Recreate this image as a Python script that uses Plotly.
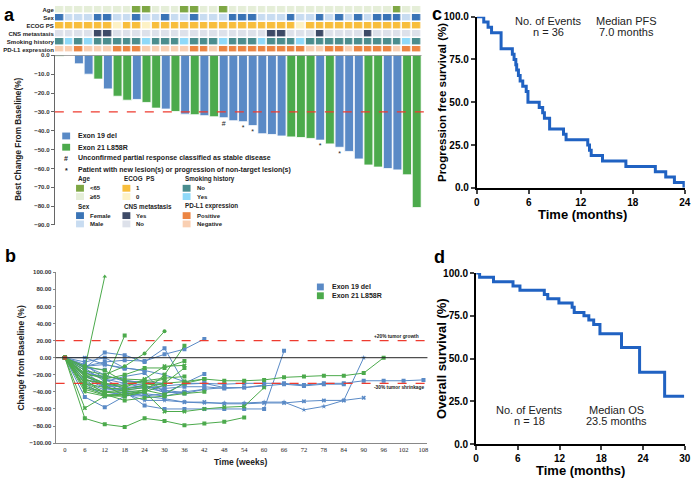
import plotly.graph_objects as go

W, H = 699, 483
def px(x): return x / W
def py(y): return 1 - y / H

FONT = "Liberation Sans, Arial, sans-serif"
BLUE = "#5a8ac6"
GREEN = "#4caa4c"
KM_BLUE = "#2062c2"
RED = "#ee3b2f"

# ---------------- Panel a data ----------------
patients = list(range(1, 39))
best_change = [-0.5, 0.0, -4.5, -10.0, -12.6, -17.8, -21.7, -23.8, -23.4, -25.0,
               -28.0, -28.5, -29.8, -31.2, -31.5, -32.0, -32.6, -33.1, -34.7, -35.2,
               -37.3, -41.6, -42.0, -42.8, -43.3, -43.6, -44.1, -45.0, -47.0, -48.8,
               -51.0, -55.0, -58.2, -59.3, -60.1, -60.8, -63.4, -80.8]
mutation = ['L858R', 'L858R', '19del', '19del', 'L858R', '19del', 'L858R', 'L858R', '19del', 'L858R',
            'L858R', '19del', 'L858R', '19del', 'L858R', '19del', 'L858R', '19del', '19del', '19del',
            '19del', '19del', '19del', '19del', 'L858R', 'L858R', 'L858R', '19del', 'L858R', '19del',
            '19del', '19del', 'L858R', 'L858R', '19del', '19del', 'L858R', 'L858R']
note_patients = [18, 20, 21, 28, 30]
note_symbols = ['#', '*', '*', '*', '*']

row_labels = ["Age", "Sex", "ECOG PS", "CNS metastasis", "Smoking history", "PD-L1 expression"]
age_lt65 = [0,0,0,0,0,0,0,0,1,1, 0,0,0,1,1,0,0,1,0,0, 0,0,0,0,0,0,0,0,0,0, 0,0,0,0,0,1,0,0]
sex_female = [1,0,0,0,1,1,0,0,1,0, 0,1,0,0,1,0,0,0,1,1, 1,0,0,0,1,0,0,1,0,1, 0,1,0,1,1,1,0,1]
ecog_1 = [1,1,1,1,1,1,0,1,1,0, 1,1,1,1,1,1,1,1,1,1, 1,1,1,1,1,0,1,1,1,1, 1,1,1,1,1,1,1,1]
cns_yes = [0,0,0,0,1,1,0,0,0,0, 0,0,0,0,0,0,0,0,0,0, 0,0,1,1,0,0,0,1,0,0, 0,0,1,0,0,0,0,0]
smoking_no = [1,0,1,0,1,1,1,1,1,0, 1,1,1,0,1,1,1,0,1,1, 1,0,1,1,1,0,1,1,1,1, 1,1,1,1,1,1,0,1]
pdl1_pos = [0,0,1,0,0,0,1,1,1,0, 0,0,0,0,1,1,0,1,1,1, 1,1,1,1,1,1,0,0,1,1, 0,1,1,1,1,0,1,1]
row_values = [age_lt65, sex_female, ecog_1, cns_yes, smoking_no, pdl1_pos]
row_colors = [("#e5eed8", "#7ea744"), ("#c8dcf1", "#3a74b6"), ("#fdf2c6", "#f8be3c"),
              ("#dde1ea", "#3d4a66"), ("#8fd9f8", "#4a8d8e"), ("#f9cfb2", "#ec8543")]

# ---------------- Panel b data ----------------
blue_weeks = [
    [0, 6, 12, 18, 24, 30, 36, 42],
    [0, 6, 12, 18, 24, 30, 36, 42, 48],
    [0, 6, 12, 18, 24, 30, 36],
    [0, 6, 12, 18, 24, 30, 36, 42, 48, 54, 60, 66],
    [0, 6, 12, 18, 24, 30, 36, 42, 48, 54, 60, 66, 72, 78, 84, 90, 96, 102, 108],
    [0, 6, 12, 18, 24, 30, 36, 42, 48, 54, 60, 66, 72, 78, 84, 90],
    [0, 6, 12, 18, 24, 30, 36, 42, 48, 54, 60, 66, 72, 78, 84, 90],
    [0, 6, 12, 18, 24],
    [0, 6, 12, 18, 24, 30, 36, 42],
    [0, 6, 12, 18, 24, 30, 36, 42, 48, 54, 60],
    [0, 6, 12, 18, 24],
    [0, 6, 12, 18],
    [0, 6, 12, 18, 24, 30],
    [0, 6, 12, 18, 24, 30, 36, 42],
    [0, 6, 12, 18, 24, 30],
    [0, 6, 12, 18, 24, 30, 36],
    [0, 6, 12, 18, 24, 30, 36, 42, 48, 54, 60, 66, 72, 78, 84],
    [0, 6, 12, 18, 24, 30],
    [0, 6, 12, 18, 24, 30, 36],
    [0, 6, 12],
]
blue_values = [
    [0, -10, -5, -3, -4, 4, 10, 22],
    [0, -12, 6, 3, -5, 11, -30, -30, -35],
    [0, 0, -8, -12, -15, -20, -28],
    [0, -30, -45, -40, -56, -60, -60, -60, -60, -60, -60, 8],
    [0, -25, -35, -38, -35, -33, -31, -30, -31, -30, -30, -30, -32, -30, -30, -27, -27, -27, -26],
    [0, -20, -30, -40, -45, -48, -52, -52, -54, -54, -53, -53, -51, -50, -50, -47],
    [0, -15, -35, -42, -50, -50, -52, -53, -53, -53, -52, -52, -61, -57, -50, 0],
    [0, -46, -58, -45, -42],
    [0, -20, -35, -30, -35, -40, -42, -37],
    [0, -15, -25, -30, -32, -41, -40, -37, -35, -35, -32],
    [0, -5, 0, -12, -15],
    [0, -10, -8, -13],
    [0, -18, -22, -26, -30, -32],
    [0, -12, -28, -22, -18, -42, -30, -19],
    [0, -35, -40, -44, -45, -42],
    [0, -22, -32, -35, -33, -38, -41],
    [0, -28, -38, -36, -34, -36, -34, -34, -36, -35, -33, -31, -33, -31, -31],
    [0, -10, -20, -28, -28, -30],
    [0, -8, -25, -38, -42, -45, -40],
    [0, -12, -14],
]
blue_symbols = ['square', 'square', 'x', 'square', 'square', 'x', 'star', 'square', 'square', 'x',
                'square', 'square', 'x', 'square', 'star', 'square', 'square', 'x', 'square', 'square']
green_weeks = [
    [0, 6, 12],
    [0, 6, 12, 18],
    [0, 6, 12, 18, 24, 30, 36, 42, 48, 54],
    [0, 6, 12, 18, 24, 30, 36, 42, 48, 54, 60],
    [0, 6, 12, 18, 24, 30, 36, 42, 48, 54, 60, 66, 72, 78, 84, 90, 96],
    [0, 6, 12, 18, 24, 30],
    [0, 6, 12, 18, 24, 30, 36],
    [0, 6, 12, 18, 24, 30, 36],
    [0, 6, 12, 18, 24, 30, 36],
    [0, 6, 12, 18, 24, 30, 36, 42],
    [0, 6, 12, 18, 24, 30],
    [0, 6, 12, 18, 24, 30, 36],
    [0, 6, 12, 18, 24],
    [0, 6, 12, 18, 24, 30],
    [0, 6, 12, 18, 24, 30, 36, 42],
    [0, 6, 12, 18],
    [0, 6, 12, 18, 24, 30, 36],
    [0, 6, 12, 18, 24],
]
green_values = [
    [0, -12, 95],
    [0, -20, -30, 26],
    [0, -71, -78, -81, -71, -74, -79, -77, -75, -70],
    [0, -59, -45, -42, -40, -63, -63, -60, -58, -57, -35],
    [0, -30, -40, -38, -35, -30, -28, -25, -27, -27, -26, -23, -22, -21, -21, -18, 0],
    [0, -15, -20, -10, 5, 31],
    [0, -25, -43, -45, -40, -20, 14],
    [0, -18, -25, -20, -12, -12, -4],
    [0, -22, -30, -35, -25, -10, -9],
    [0, -35, -43, -50, -47, -45, -42, -40],
    [0, -40, -45, -45, -40, -32],
    [0, -30, -35, -37, -32, -30, -12],
    [0, -20, -22, -25, -26],
    [0, -10, -15, -28, -30, -25],
    [0, -33, -41, -40, -38, -43, -30, -25],
    [0, -25, -32, -45],
    [0, -26, -30, -33, -27, -24, -22],
    [0, -37, -44, -43, -38],
]
green_symbols = ['triangle-up', 'square', 'square', 'x', 'square', 'circle', 'square', 'square', 'x', 'square',
                 'star', 'square', 'x', 'square', 'square', 'star', 'square', 'x']
baseline_week = [0]
baseline_value = [0]
week_ticks = [0, 6, 12, 18, 24, 30, 36, 42, 48, 54, 60, 66, 72, 78, 84, 90, 96, 102, 108]

# ---------------- Panel c / d data ----------------
pfs_months = [0, 0.8, 1.3, 1.7, 2.8, 4.1, 4.3, 4.5, 4.6, 4.8, 5.0, 5.3, 5.7, 5.9, 7.2, 7.6,
              7.8, 8.4, 10.0, 10.3, 12.8, 13.0, 13.2, 14.5, 17.2, 20.6, 21.8, 22.8, 23.9]
pfs_surv = [100, 96.9, 93.8, 90.6, 81.3, 78.1, 75.0, 71.9, 68.8, 65.6, 62.5, 59.4, 56.3, 50.0, 46.9, 43.8,
            40.6, 34.4, 31.3, 28.1, 25.0, 21.9, 18.8, 15.6, 12.5, 9.4, 6.3, 3.1, 0]
os_months = [0, 0.5, 2.5, 5.3, 6.3, 9.8, 10.3, 11.9, 13.8, 14.1, 15.5, 16.2, 16.9, 17.8, 20.9, 23.5, 27.1, 29.9]
os_surv = [100, 97.5, 95.0, 92.5, 90.0, 87.5, 85.0, 82.5, 80.0, 77.0, 75.0, 72.5, 70.0, 64.5, 56.5, 42.0, 28.0, 28.0]

fig = go.Figure()

# waterfall bars
for mut, col, name in [('19del', BLUE, 'Exon 19 del'), ('L858R', GREEN, 'Exon 21 L858R')]:
    xs = [p for p, m in zip(patients, mutation) if m == mut]
    ys = [v for v, m in zip(best_change, mutation) if m == mut]
    fig.add_trace(go.Bar(x=xs, y=ys, marker=dict(color=col, line=dict(color='white', width=0.8)),
                         width=0.92, showlegend=False, xaxis='x', yaxis='y', name=name))
fig.add_trace(go.Scatter(x=note_patients, y=[best_change[p - 1] - 3.5 for p in note_patients],
                         text=note_symbols, mode='text',
                         textfont=dict(size=7, color='#222', family=FONT),
                         showlegend=False, xaxis='x', yaxis='y'))

# heatmap (one trace, each row has its own pair of colours)
nrow = len(row_labels)
z_codes = [[r * 2 + v for v in vals] for r, vals in enumerate(row_values)]
cscale = []
for r, (c0, c1) in enumerate(row_colors):
    for k, c in enumerate((c0, c1)):
        idx = r * 2 + k
        cscale.append([idx / (2 * nrow), c])
        cscale.append([(idx + 1) / (2 * nrow), c])
fig.add_trace(go.Heatmap(z=z_codes, x=patients, y=list(range(nrow)), zmin=-0.5, zmax=2 * nrow - 0.5,
                         colorscale=cscale, showscale=False, xgap=1.6, ygap=1.6,
                         xaxis='x2', yaxis='y2', hoverinfo='skip'))

# spaghetti
for wk, vals, sym in zip(blue_weeks, blue_values, blue_symbols):
    fig.add_trace(go.Scatter(x=wk, y=vals, mode='lines+markers', line=dict(color=BLUE, width=1),
                             marker=dict(symbol=sym, size=4, color=BLUE),
                             showlegend=False, xaxis='x3', yaxis='y3'))
for wk, vals, sym in zip(green_weeks, green_values, green_symbols):
    fig.add_trace(go.Scatter(x=wk, y=vals, mode='lines+markers', line=dict(color=GREEN, width=1),
                             marker=dict(symbol=sym, size=4, color=GREEN),
                             showlegend=False, xaxis='x3', yaxis='y3'))
fig.add_trace(go.Scatter(x=baseline_week, y=baseline_value, mode='markers',
                         marker=dict(symbol='square', size=4, color='#b5533c'),
                         showlegend=False, xaxis='x3', yaxis='y3'))

# KM curves
fig.add_trace(go.Scatter(x=pfs_months, y=pfs_surv, mode='lines', line=dict(color=KM_BLUE, width=3, shape='hv'),
                         showlegend=False, xaxis='x4', yaxis='y4', cliponaxis=False))
fig.add_trace(go.Scatter(x=os_months, y=os_surv, mode='lines', line=dict(color=KM_BLUE, width=3, shape='hv'),
                         showlegend=False, xaxis='x5', yaxis='y5', cliponaxis=False))

def bold(s, c='#333'):
    return dict(family=FONT, size=s, color=c, weight='bold')

km_axis = dict(showline=True, linecolor='black', linewidth=2, ticks='outside', ticklen=4, tickwidth=2,
               tickfont=bold(10, 'black'), showgrid=False, zeroline=False, ticklabeloverflow='allow')

layout = dict(
    width=W, height=H, margin=dict(l=0, r=0, t=0, b=0),
    paper_bgcolor='white', plot_bgcolor='rgba(0,0,0,0)',
    bargap=0.05, showlegend=False,
    xaxis=dict(domain=[px(52.5), px(424)], range=[0.5, 38.5], visible=False, anchor='y'),
    yaxis=dict(domain=[py(224), py(50.5)], range=[-90, 0], dtick=10, tickformat='.1f',
               showline=True, linecolor='#666', linewidth=1, ticks='outside', ticklen=3,
               tickcolor='#666', tickfont=bold(6.1), showgrid=False, zeroline=False, anchor='x',
               ticklabeloverflow='allow'),
    xaxis2=dict(domain=[px(52.5), px(424)], range=[0.5, 38.5], visible=False, anchor='y2'),
    yaxis2=dict(domain=[py(48.5), py(0)], range=[nrow - 0.5, -0.5], tickvals=list(range(nrow)),
                ticktext=row_labels, tickfont=bold(6, '#222'), showline=False, ticks='',
                showgrid=False, zeroline=False, anchor='x2', ticklabeloverflow='allow'),
    xaxis3=dict(domain=[px(53.3), px(430)], range=[-2.8, 109.2], tickvals=week_ticks,
                tickfont=dict(family='Liberation Serif, serif', size=6.5, color='#222'),
                showline=True, linecolor='#888', linewidth=1, ticks='', showgrid=False,
                zeroline=False, anchor='y3', ticklabeloverflow='allow'),
    yaxis3=dict(domain=[py(447.3), py(272.5)], range=[-100, 100], dtick=20, tickformat='.2f',
                showline=True, linecolor='#888', linewidth=1, ticks='outside', ticklen=2,
                tickcolor='#888', tickfont=bold(6), showgrid=False, zeroline=False, anchor='x3',
                ticklabeloverflow='allow'),
    xaxis4=dict(domain=[px(480), px(690.7)], range=[0, 24], tickvals=[0, 6, 12, 18, 24],
                anchor='y4', **km_axis),
    yaxis4=dict(domain=[py(186), py(11)], range=[0, 100], tickvals=[0, 25, 50, 75, 100], tickformat='.1f',
                anchor='x4', **km_axis),
    xaxis5=dict(domain=[px(479.3), px(690.7)], range=[0, 30], tickvals=[0, 6, 12, 18, 24, 30],
                anchor='y5', **km_axis),
    yaxis5=dict(domain=[py(448.3), py(273.3)], range=[0, 100], tickvals=[0, 25, 50, 75, 100], tickformat='.1f',
                anchor='x5', **km_axis),
)
fig.update_layout(**layout)

shapes = []
# panel a lines
shapes.append(dict(type='line', xref='paper', yref='y', x0=px(52.5), x1=px(424), y0=0, y1=0,
                   line=dict(color='#777', width=1)))
shapes.append(dict(type='line', xref='paper', yref='y', x0=px(52.5), x1=px(431), y0=-30, y1=-30,
                   line=dict(color=RED, width=1.3, dash='dash')))
# panel b lines
for yv, colr, dsh in [(20, RED, 'dash'), (-30, RED, 'dash'), (0, '#222', 'solid')]:
    shapes.append(dict(type='line', xref='paper', yref='y3', x0=px(53.3), x1=px(430), y0=yv, y1=yv,
                       line=dict(color=colr, width=1.3 if dsh == 'dash' else 1, dash=dsh)))

def swatch(x0, yc, color, w=8, h=7):
    shapes.append(dict(type='rect', xref='paper', yref='paper', x0=px(x0), x1=px(x0 + w),
                       y0=py(yc + h / 2), y1=py(yc - h / 2), fillcolor=color, line=dict(width=0)))

annotations = []
def txt(x, y, s, size=6.3, anchor='left', color='#222', weight='bold', angle=0):
    annotations.append(dict(x=px(x), y=py(y), xref='paper', yref='paper', text=s, showarrow=False,
                            xanchor=anchor, yanchor='middle', textangle=angle,
                            font=dict(family=FONT, size=size, color=color, weight=weight)))

# panel a legend
swatch(60, 133, BLUE); txt(74, 133, "Exon 19 del", 7)
swatch(60, 144.5, GREEN); txt(74, 144.5, "Exon 21 L858R", 7)
txt(64, 156, "#", 7, anchor='center'); txt(74, 156, "Unconfirmed partial response classified as stable disease", 7)
txt(64, 168, "*", 7, anchor='center'); txt(74, 168, "Patient with new lesion(s) or progression of non-target lesion(s)", 7)
legend_blocks = [
    (74, 177, "Age", [("<65", row_colors[0][1]), ("≥65", row_colors[0][0])]),
    (121, 177, "ECOG  PS", [("1", row_colors[2][1]), ("0", row_colors[2][0])]),
    (182, 177, "Smoking history", [("No", row_colors[4][1]), ("Yes", row_colors[4][0])]),
    (74, 205, "Sex", [("Female", row_colors[1][1]), ("Male", row_colors[1][0])]),
    (121, 205, "CNS metastasis", [("Yes", row_colors[3][1]), ("No", row_colors[3][0])]),
    (182, 205, "PD-L1 expression", [("Positive", row_colors[5][1]), ("Negative", row_colors[5][0])]),
]
for x0, y0, head, items in legend_blocks:
    txt(x0, y0, head, 6.3)
    for i, (lab, colr) in enumerate(items):
        yc = y0 + 9.5 + i * 8.5
        swatch(x0, yc, colr, w=8, h=7)
        txt(x0 + 12, yc, lab, 6)

txt(15, 136, "Best Change From Baseline(%)", 8.3, anchor='center', angle=-90)

# panel b text
swatch(318, 287.5, BLUE, w=7, h=7); txt(331, 287.5, "Exon 19 del", 7)
swatch(318, 296.5, GREEN, w=7, h=7); txt(331, 296.5, "Exon 21 L858R", 7)
txt(423, 338.5, "+20% tumor growth", 4.8, anchor='right')
txt(429, 390.5, "-30% tumor shrinkage", 4.8, anchor='right')
txt(18, 360, "Change from Baseline (%)", 8.5, anchor='center', angle=-90)
txt(241, 466.5, "Time (weeks)", 8.5, anchor='center')

# panel c text
txt(553, 15, "No. of Events", 11, anchor='center', weight='normal')
txt(553, 27, "n = 36", 11, anchor='center', weight='normal')
txt(632, 15, "Median PFS", 11, anchor='center', weight='normal')
txt(632, 27, "7.0 months", 11, anchor='center', weight='normal')
txt(444, 99, "Progression free survival (%)", 11.5, anchor='center', angle=-90, color='black')
txt(587, 213, "Time (months)", 13, anchor='center', color='black')

# panel d text
txt(533, 413, "No. of Events", 11, anchor='center', weight='normal')
txt(533, 425, "n = 18", 11, anchor='center', weight='normal')
txt(622, 413, "Median OS", 11, anchor='center', weight='normal')
txt(622, 425, "23.5 months", 11, anchor='center', weight='normal')
txt(444, 361, "Overall survival (%)", 13, anchor='center', angle=-90, color='black')
txt(585, 475.5, "Time (months)", 13, anchor='center', color='black')

# panel letters
txt(7, 9, "a", 18, anchor='center', color='black')
txt(8, 256, "b", 18, anchor='center', color='black')
txt(440, 8, "c", 18, anchor='center', color='black')
txt(442, 257, "d", 18, anchor='center', color='black')

fig.update_layout(shapes=shapes, annotations=annotations)
fig.write_html("out.html", config={'displayModeBar': False},
               post_script="document.body.style.margin='0';document.body.style.overflow='hidden';")
